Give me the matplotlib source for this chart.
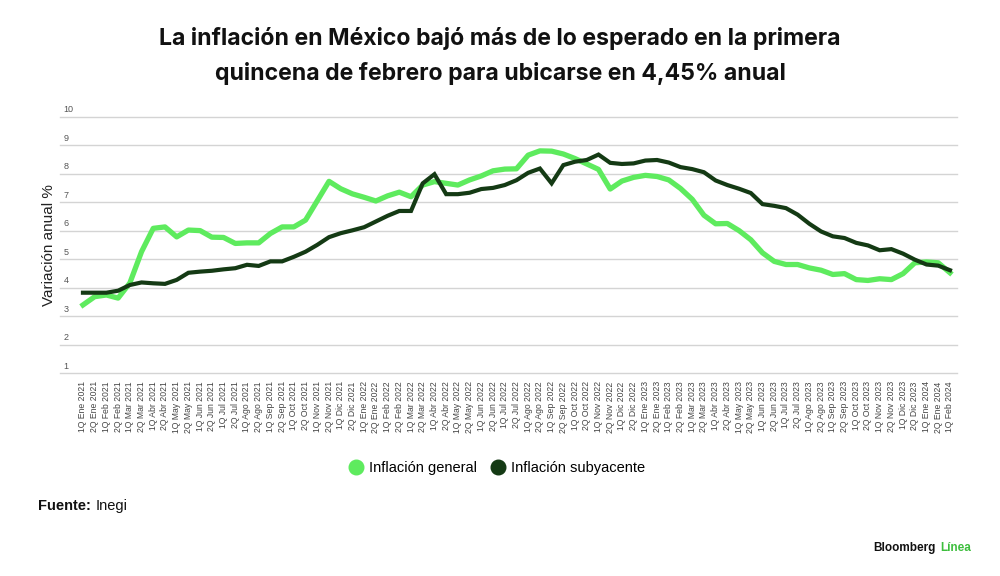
import matplotlib
matplotlib.use("Agg")
import matplotlib.pyplot as plt
from matplotlib.lines import Line2D
import matplotlib.transforms as mtransforms

meses = ["Ene", "Feb", "Mar", "Abr", "May", "Jun", "Jul", "Ago", "Sep", "Oct", "Nov", "Dic"]
periodos = []
for anio in [2021, 2022, 2023]:
    for mes in meses:
        periodos.append("1Q %s %d" % (mes, anio))
        periodos.append("2Q %s %d" % (mes, anio))
periodos += ["1Q Ene 2024", "2Q Ene 2024", "1Q Feb 2024"]

general = [3.39, 3.68, 3.74, 3.63, 4.16, 5.26, 6.08, 6.13, 5.78, 6.02,
           6.00, 5.77, 5.76, 5.55, 5.57, 5.57, 5.90, 6.13, 6.13, 6.37,
           7.05, 7.73, 7.47, 7.29, 7.17, 7.04, 7.22, 7.35, 7.19, 7.60,
           7.72, 7.66, 7.60, 7.78, 7.92, 8.10, 8.16, 8.17, 8.65, 8.80,
           8.79, 8.69, 8.53, 8.34, 8.15, 7.46, 7.74, 7.87, 7.94, 7.90,
           7.78, 7.48, 7.10, 6.54, 6.24, 6.25, 6.00, 5.68, 5.22, 4.92,
           4.81, 4.81, 4.69, 4.61, 4.46, 4.49, 4.28, 4.25, 4.31, 4.28,
           4.49, 4.87, 4.90, 4.87, 4.52]

subyacente = [3.82, 3.82, 3.82, 3.89, 4.09, 4.18, 4.15, 4.13, 4.27, 4.52,
              4.56, 4.59, 4.64, 4.68, 4.80, 4.76, 4.92, 4.92, 5.08, 5.26,
              5.50, 5.77, 5.91, 6.01, 6.12, 6.32, 6.52, 6.69, 6.69, 7.66,
              7.98, 7.28, 7.28, 7.33, 7.46, 7.50, 7.60, 7.77, 8.03, 8.18,
              7.66, 8.30, 8.42, 8.48, 8.67, 8.38, 8.34, 8.36, 8.46, 8.48,
              8.39, 8.23, 8.16, 8.05, 7.76, 7.60, 7.47, 7.32, 6.93, 6.87,
              6.79, 6.56, 6.24, 5.97, 5.80, 5.74, 5.57, 5.48, 5.31, 5.35,
              5.19, 4.98, 4.81, 4.77, 4.61]

yticks = [1, 2, 3, 4, 5, 6, 7, 8, 9, 10]

verde = "#5EEB5E"
oscuro = "#143A14"

plt.rcParams['font.family'] = ['Liberation Sans', 'DejaVu Sans']

fig = plt.figure(figsize=(10, 5.76), dpi=100)
ax = fig.add_axes([0.06, 0.3524, 0.897, 0.445])

x = list(range(len(periodos)))
ax.plot(x, general, color=verde, lw=3.8, solid_joinstyle='round', zorder=3, clip_on=False)
ax.plot(x, subyacente, color=oscuro, lw=3.0, solid_joinstyle='miter', zorder=4, clip_on=False)

ax.set_xlim(-1.96, 74.6)
ax.set_ylim(1, 10)
ax.set_yticks(yticks)
ax.set_yticklabels([])
ax.grid(axis='y', color='#d4d4d4', lw=1.0)
for g in ax.get_ygridlines():
    g.set_clip_on(False)
ax.tick_params(axis='y', length=0)
for s in ax.spines.values():
    s.set_visible(False)

trans = mtransforms.blended_transform_factory(ax.transAxes, ax.transData)
for v in yticks:
    ax.text(0.004, v + 0.08, str(v), transform=trans, fontsize=6.5,
            color='#555555', ha='left', va='bottom')

ax.set_xticks(x)
ax.set_xticklabels(periodos, rotation=90, fontsize=6.2, color='#444444')
ax.tick_params(axis='x', length=0, pad=6)

ax.set_ylabel("Variación anual %", fontsize=11, color='#222222', labelpad=2)
ax.yaxis.set_label_coords(-0.005, 0.5)

titulo_fuente = ['Inter', 'DejaVu Sans']
fig.text(0.5, 0.934, "La inflación en México bajó más de lo esperado en la primera",
         ha='center', va='center', fontsize=16.6, fontweight='bold', family=titulo_fuente, color='#111111')
fig.text(0.5, 0.873, "quincena de febrero para ubicarse en 4,45% anual",
         ha='center', va='center', fontsize=16.6, fontweight='bold', family=titulo_fuente, color='#111111')

handles = [Line2D([], [], color=verde, marker='o', ls='none', markersize=10.5),
           Line2D([], [], color=oscuro, marker='o', ls='none', markersize=10.5)]
fig.legend(handles, ["Inflación general", "Inflación subyacente"], loc='center',
           bbox_to_anchor=(0.496, 0.1875), ncol=2, frameon=False, fontsize=10.5,
           handletextpad=0.3, columnspacing=0.8, handlelength=1.2)

fig.text(0.038, 0.121, "Fuente:", fontsize=10.5, fontweight='bold', color='#111111', va='center')
fig.text(0.096, 0.121, "Inegi", fontsize=10.5, color='#111111', va='center')

fig.text(0.873, 0.049, "Bloomberg", fontsize=8.5, fontweight='bold', color='#111111', va='center')
fig.text(0.940, 0.049, "Línea", fontsize=8.5, fontweight='bold', color='#3DBE3D', va='center')

fig.savefig("out.png", dpi=100, facecolor='white')
